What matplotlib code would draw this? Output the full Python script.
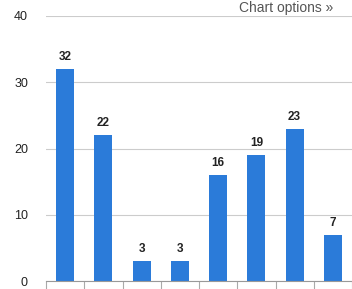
import numpy as np
import matplotlib.pyplot as plt

plt.rcParams["font.family"] = ["Liberation Sans", "DejaVu Sans"]

values = [32, 22, 3, 3, 16, 19, 23, 7]
yticks = [0, 10, 20, 30, 40]

W, H = 352, 289
fig = plt.figure(figsize=(W / 100, H / 100), dpi=100)
ax = fig.add_axes([46 / W, (H - 281) / H, (W - 46) / W, (281 - 16) / H])

x = np.arange(len(values))
ax.bar(x, values, width=0.47, color="#2b7bd9", zorder=3)
for xi, v in zip(x, values):
    ax.text(xi, v + 0.9, str(v), ha="center", va="bottom",
            fontsize=8.5, fontweight="bold", color="#222222")

ax.set_xlim(-0.5, 7.47)
ax.set_ylim(0, 40)
ax.set_yticks(yticks)
ax.set_yticklabels([str(t) for t in yticks])
ax.tick_params(axis="y", length=0, pad=13, labelsize=9, labelcolor="#222222")
ax.yaxis.grid(True, color="#cccccc", linewidth=0.8, zorder=0)

ax.set_xticks([])
ax.set_xticks(np.arange(-0.5, 8, 1), minor=True)
ax.tick_params(axis="x", which="minor", length=6, width=0.8, color="#aaaaaa", direction="out")
ax.tick_params(axis="x", which="major", length=0)

for s in ["top", "right", "left"]:
    ax.spines[s].set_visible(False)
ax.spines["bottom"].set_color("#999999")
ax.spines["bottom"].set_linewidth(0.8)
ax.spines["bottom"].set_zorder(4)

fig.text(333 / W, 1 - 1 / H, "Chart options \u00bb", ha="right", va="top",
         fontsize=10, color="#555555")

fig.savefig("out.png", dpi=100)
